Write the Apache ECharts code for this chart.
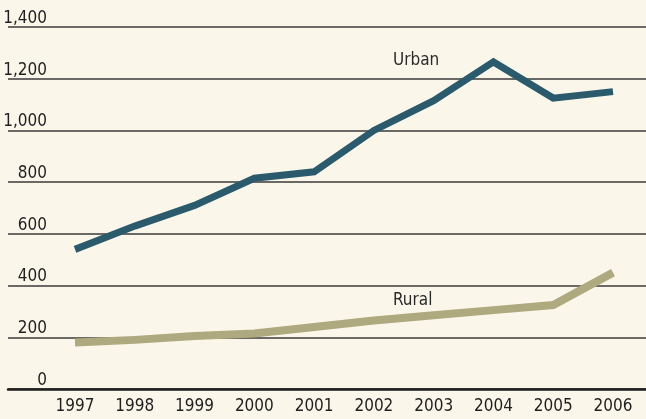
<!DOCTYPE html>
<html>
<head>
<meta charset="utf-8">
<script src="https://cdn.jsdelivr.net/npm/echarts@6/dist/echarts.min.js"></script>
<style>
  html, body { margin: 0; padding: 0; background: #faf7ea; }
  #chart { width: 646px; height: 419px; }
</style>
</head>
<body>
<div id="chart"></div>
<script>
// Years on the horizontal axis
var years = [1997, 1998, 1999, 2000, 2001, 2002, 2003, 2004, 2005, 2006];
// Urban and rural series values
var urban = [540, 630, 710, 815, 840, 1000, 1115, 1265, 1125, 1150];
var rural = [180, 190, 205, 215, 240, 265, 285, 305, 325, 450];
// Vertical axis ticks
var yTicks = [0, 200, 400, 600, 800, 1000, 1200, 1400];

var FONT = '"DejaVu Sans Condensed", "Liberation Sans Narrow", sans-serif';

function pairs(vals) {
  return years.map(function (y, i) { return [y, vals[i]]; });
}

var chart = echarts.init(document.getElementById('chart'), null, { renderer: 'canvas' });

chart.setOption({
  backgroundColor: '#faf7ea',
  animation: false,
  grid: { left: 8, right: 0, top: 27, bottom: 30, containLabel: false },
  xAxis: {
    type: 'value',
    min: 1995.879,
    max: 2006.552,
    axisLine: { show: true, lineStyle: { color: '#1e1e1e', width: 2.5 } },
    axisTick: { show: false },
    splitLine: { show: false },
    axisLabel: {
      customValues: years,
      formatter: function (v) { return String(v); },
      color: '#1f1f1f',
      fontFamily: FONT,
      fontSize: 17,
      margin: 9
    }
  },
  yAxis: {
    type: 'value',
    min: yTicks[0],
    max: yTicks[yTicks.length - 1],
    interval: 200,
    axisLine: { show: false },
    axisTick: { show: false },
    splitLine: { show: true, lineStyle: { color: '#3a3a3a', width: 1.5 } },
    axisLabel: {
      inside: true,
      margin: 39,
      align: 'right',
      verticalAlign: 'bottom',
      color: '#1f1f1f',
      fontFamily: FONT,
      fontSize: 17,
      formatter: function (v) { return v.toLocaleString('en-US'); }
    }
  },
  graphic: [
    { type: 'text', left: 393, top: 52, style: { text: 'Urban', fill: '#2a2a2a', font: '17px ' + FONT } },
    { type: 'text', left: 393, top: 292, style: { text: 'Rural', fill: '#2a2a2a', font: '17px ' + FONT } }
  ],
  series: [
    {
      name: 'Rural',
      type: 'line',
      data: pairs(rural),
      symbol: 'none',
      lineStyle: { color: '#aea97e', width: 8, cap: 'butt', join: 'miter' }
    },
    {
      name: 'Urban',
      type: 'line',
      data: pairs(urban),
      symbol: 'none',
      lineStyle: { color: '#2b5a6c', width: 7, cap: 'butt', join: 'miter' }
    }
  ]
});
</script>
</body>
</html>
